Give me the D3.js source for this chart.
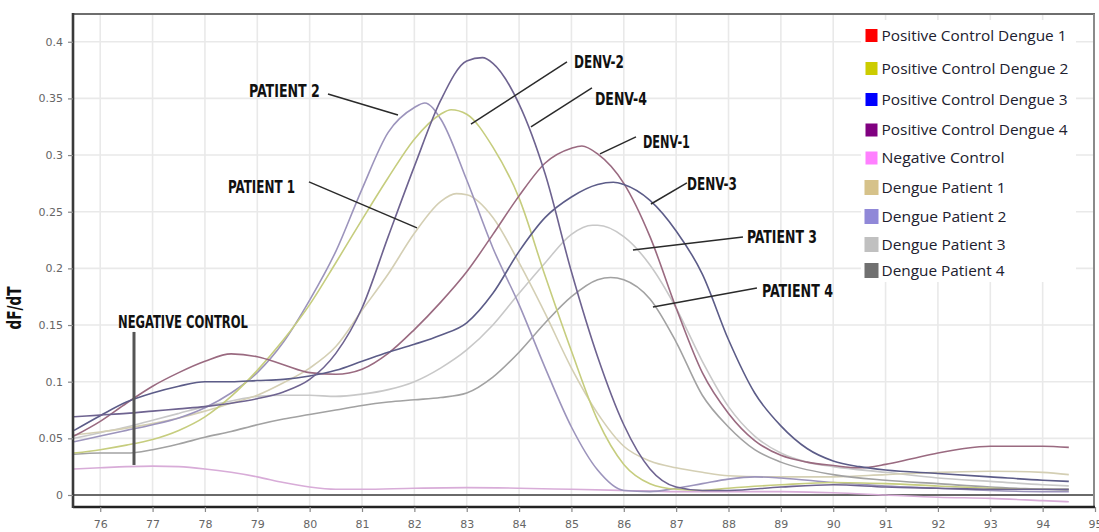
<!DOCTYPE html>
<html><head><meta charset="utf-8">
<script src="https://cdn.jsdelivr.net/npm/d3@7"></script>
<style>
html,body{margin:0;padding:0;background:#fff;}
svg{display:block;}
</style></head>
<body>
<svg id="chart" width="1099" height="532"></svg>
<script>
// ---------- DATA (temperature °C, dF/dT) ----------
const denv1 = [[75.5,0.052],[76,0.065],[76.5,0.081],[77,0.096],[77.5,0.108],[78,0.118],[78.5,0.1245],[79,0.122],[79.5,0.115],[80,0.108],[80.5,0.1065],[81,0.111],[81.5,0.125],[82,0.146],[82.5,0.17],[83,0.197],[83.5,0.23],[84,0.264],[84.5,0.293],[85,0.306],[85.2,0.308],[85.5,0.301],[86,0.275],[86.5,0.228],[87,0.165],[87.5,0.108],[88,0.072],[88.5,0.048],[89,0.035],[89.5,0.029],[90,0.026],[90.5,0.024],[91,0.027],[91.5,0.032],[92,0.037],[92.5,0.041],[93,0.043],[94,0.043],[94.5,0.042]];
const denv2 = [[75.5,0.037],[76,0.04],[76.5,0.044],[77,0.049],[77.5,0.057],[78,0.069],[78.5,0.087],[79,0.11],[79.5,0.137],[80,0.168],[80.5,0.205],[81,0.243],[81.5,0.28],[82,0.314],[82.5,0.336],[82.7,0.34],[83,0.336],[83.5,0.307],[84,0.262],[84.5,0.193],[85,0.127],[85.5,0.066],[86,0.027],[86.5,0.01],[87,0.005],[87.5,0.004],[88,0.006],[89,0.009],[90,0.011],[91,0.01],[92,0.008],[93,0.006],[94,0.005],[94.5,0.005]];
const denv3 = [[75.5,0.057],[76,0.07],[76.5,0.082],[77,0.09],[77.5,0.096],[78,0.1],[78.5,0.1],[79,0.101],[79.5,0.102],[80,0.105],[80.5,0.11],[81,0.118],[81.5,0.126],[82,0.133],[82.5,0.141],[83,0.152],[83.5,0.178],[84,0.215],[84.5,0.245],[85,0.263],[85.5,0.274],[85.8,0.276],[86,0.274],[86.5,0.26],[87,0.233],[87.5,0.195],[88,0.137],[88.5,0.09],[89,0.061],[89.5,0.041],[90,0.03],[90.5,0.025],[91,0.022],[92,0.019],[93,0.016],[94,0.013],[94.5,0.012]];
const denv4 = [[75.5,0.069],[76,0.0705],[76.5,0.072],[77,0.074],[77.5,0.076],[78,0.078],[78.5,0.081],[79,0.085],[79.5,0.091],[80,0.102],[80.5,0.125],[81,0.165],[81.5,0.228],[82,0.29],[82.5,0.348],[83,0.383],[83.3,0.386],[83.5,0.381],[84,0.345],[84.5,0.283],[85,0.197],[85.5,0.122],[86,0.062],[86.5,0.023],[87,0.007],[87.5,0.004],[88,0.004],[89,0.007],[90,0.009],[91,0.007],[92,0.006],[93,0.005],[94,0.005],[94.5,0.005]];
const negative = [[75.5,0.023],[76,0.024],[76.5,0.025],[77,0.0255],[77.5,0.025],[78,0.023],[78.5,0.02],[79,0.016],[79.5,0.011],[80,0.007],[80.5,0.005],[81,0.005],[82,0.006],[83,0.0065],[84,0.006],[85,0.005],[86,0.004],[87,0.003],[88,0.003],[89,0.003],[90,0.002],[91,0.0],[92,-0.002],[93,-0.003],[94,-0.005],[94.5,-0.006]];
const patient1 = [[75.5,0.053],[76,0.0556],[76.5,0.059],[77,0.063],[77.5,0.068],[78,0.074],[78.5,0.081],[79,0.088],[79.5,0.099],[80,0.112],[80.5,0.131],[81,0.163],[81.5,0.195],[82,0.231],[82.5,0.259],[82.8,0.266],[83,0.265],[83.5,0.245],[84,0.205],[84.5,0.16],[85,0.112],[85.5,0.072],[86,0.043],[86.5,0.03],[87,0.024],[87.5,0.02],[88,0.017],[89,0.016],[90,0.016],[91,0.018],[92,0.02],[93,0.021],[94,0.02],[94.5,0.018]];
const patient2 = [[75.5,0.047],[76,0.052],[76.5,0.057],[77,0.062],[77.5,0.068],[78,0.077],[78.5,0.09],[79,0.108],[79.5,0.135],[80,0.172],[80.5,0.215],[81,0.27],[81.5,0.32],[82,0.342],[82.2,0.346],[82.5,0.332],[83,0.278],[83.5,0.218],[84,0.168],[84.5,0.112],[85,0.06],[85.5,0.022],[86,0.004],[86.5,0.003],[87,0.006],[87.5,0.01],[88,0.014],[88.5,0.016],[89,0.015],[90,0.011],[91,0.008],[92,0.006],[93,0.004],[94,0.003],[94.5,0.003]];
const patient3 = [[75.5,0.05],[76,0.055],[76.5,0.06],[77,0.066],[77.5,0.072],[78,0.078],[78.5,0.083],[79,0.087],[79.5,0.088],[80,0.088],[80.5,0.087],[81,0.089],[81.5,0.093],[82,0.1],[82.5,0.112],[83,0.128],[83.5,0.15],[84,0.178],[84.5,0.205],[85,0.23],[85.4,0.238],[85.5,0.238],[86,0.228],[86.5,0.203],[87,0.165],[87.5,0.118],[88,0.078],[88.5,0.052],[89,0.037],[89.5,0.029],[90,0.025],[91,0.02],[92,0.015],[93,0.012],[94,0.009],[94.5,0.008]];
const patient4 = [[75.5,0.036],[76,0.037],[76.5,0.037],[77,0.04],[77.5,0.045],[78,0.051],[78.5,0.056],[79,0.062],[79.5,0.067],[80,0.071],[80.5,0.075],[81,0.079],[81.5,0.082],[82,0.084],[82.5,0.086],[83,0.09],[83.5,0.104],[84,0.126],[84.5,0.152],[85,0.175],[85.5,0.19],[85.75,0.192],[86,0.19],[86.5,0.173],[87,0.135],[87.5,0.088],[88,0.06],[88.5,0.04],[89,0.029],[90,0.018],[91,0.013],[92,0.01],[93,0.007],[94,0.005],[94.5,0.004]];

const legendLabels = ["Positive Control Dengue 1","Positive Control Dengue 2","Positive Control Dengue 3","Positive Control Dengue 4","Negative Control","Dengue Patient 1","Dengue Patient 2","Dengue Patient 3","Dengue Patient 4"];
const legendColors = ["#ff0000","#cccc00","#0000ff","#800080","#ff80ff","#d6c28a","#9088d8","#c0c0c0","#707070"];
const seriesData = [denv1, denv2, denv3, denv4, negative, patient1, patient2, patient3, patient4];
// colours as they appear on the (washed-out) curves
const lineColors = ["#9a6a80","#c6cd7e","#5c5c88","#6e6390","#d8acd8","#d4cfb4","#9c94bc","#c8c8c8","#a2a2a2"];

const xTicks = [76,77,78,79,80,81,82,83,84,85,86,87,88,89,90,91,92,93,94,95];
const yTicks = [0,0.05,0.1,0.15,0.2,0.25,0.3,0.35,0.4];
const yTickLabels = ["0","0.05","0.1","0.15","0.2","0.25","0.3","0.35","0.4"];

// annotations: label anchor (t,v) and leader line from (t1,v1) to (t2,v2), all in data units
const annotations = [
  {text:"PATIENT 2", t:78.84, v:0.3513, w:71, line:[[80.35,0.3539],[81.687,0.3354]]},
  {text:"PATIENT 1", t:78.44, v:0.2665, w:67, line:[[79.987,0.2763],[82.05,0.2357]]},
  {text:"NEGATIVE CONTROL", t:76.339, v:0.1474, w:130, line:[[76.645,0.1439],[76.645,0.0265]], thick:true},
  {text:"DENV-2", t:85.048, v:0.3769, w:50, line:[[84.915,0.3822],[83.081,0.3274]]},
  {text:"DENV-4", t:85.449, v:0.3443, w:52, line:[[85.392,0.3592],[84.227,0.3248]]},
  {text:"DENV-1", t:86.366, v:0.3063, w:47, line:[[86.233,0.316],[85.545,0.301]]},
  {text:"DENV-3", t:87.206, v:0.2692, w:50, line:[[87.206,0.2754],[86.519,0.2568]]},
  {text:"PATIENT 3", t:88.352, v:0.2224, w:70, line:[[88.276,0.2277],[86.175,0.2162]]},
  {text:"PATIENT 4", t:88.639, v:0.1748, w:71, line:[[88.543,0.1827],[86.557,0.1659]]}
];

// ---------- DRAWING ----------
const svg = d3.select("#chart");
const x = d3.scaleLinear().domain([75.48, 95]).range([73, 1095]);
const y = d3.scaleLinear().domain([-0.0106, 0.4245]).range([507, 14]);
const [x0, x1] = x.range(), [y0, y1] = y.range();

function fit(sel, w){
  sel.each(function(){
    const l = this.getComputedTextLength();
    if (Math.abs(l - w) > 0.5) d3.select(this).attr("textLength", w).attr("lengthAdjust", "spacingAndGlyphs");
  });
}

// grid
const grid = svg.append("g");
grid.selectAll("line.v").data(xTicks.filter(t => t < 95)).join("line")
  .attr("x1", d => x(d)).attr("x2", d => x(d)).attr("y1", y1).attr("y2", y0)
  .attr("stroke", "#e9e9e9").attr("stroke-width", 1.6);
grid.selectAll("line.h").data(yTicks).join("line")
  .attr("x1", x0).attr("x2", x1 - 1).attr("y1", d => y(d)).attr("y2", d => y(d))
  .attr("stroke", "#e9e9e9").attr("stroke-width", 1.6);

// legend background (hides grid)
svg.append("rect").attr("x", 861).attr("y", 20).attr("width", 215).attr("height", 262).attr("fill", "#fff");

// zero line
svg.append("line").attr("x1", x0).attr("x2", x1).attr("y1", y(0)).attr("y2", y(0))
  .attr("stroke", "#6a6a6a").attr("stroke-width", 2);

// curves
const line = d3.line().x(d => x(d[0])).y(d => y(d[1])).curve(d3.curveMonotoneX);
const drawOrder = [7, 5, 4, 8, 6, 1, 0, 2, 3];
svg.append("g").selectAll("path").data(drawOrder).join("path")
  .attr("d", i => line(seriesData[i]))
  .attr("fill", "none").attr("stroke", i => lineColors[i]).attr("stroke-width", 1.6)
  .attr("stroke-linejoin", "round");

// frame
svg.append("line").attr("x1", x0).attr("x2", x1).attr("y1", y1).attr("y2", y1).attr("stroke", "#6e6e6e").attr("stroke-width", 2.2);
svg.append("line").attr("x1", x1 - 1).attr("x2", x1 - 1).attr("y1", y1).attr("y2", y0).attr("stroke", "#8a8a8a").attr("stroke-width", 2);
svg.append("line").attr("x1", x0).attr("x2", x1).attr("y1", y0).attr("y2", y0).attr("stroke", "#222").attr("stroke-width", 2.5);
svg.append("line").attr("x1", x0).attr("x2", x0).attr("y1", y1 - 1).attr("y2", y0 + 1).attr("stroke", "#3a3a3a").attr("stroke-width", 2.6);

// axes
const yAxis = svg.append("g").attr("transform", `translate(${x0},0)`)
  .call(d3.axisLeft(y).tickValues(yTicks).tickFormat((d, i) => yTickLabels[i]).tickSize(5).tickPadding(5));
const xAxis = svg.append("g").attr("transform", `translate(0,${y0})`)
  .call(d3.axisBottom(x).tickValues(xTicks).tickFormat(d => String(d)).tickSize(5).tickPadding(8));
[yAxis, xAxis].forEach(a => {
  a.select(".domain").remove();
  a.selectAll(".tick line").attr("stroke", "#888").attr("stroke-width", 1.2);
  a.selectAll(".tick text").attr("fill", "#666").style("font-family", "DejaVu Sans, Verdana, sans-serif").style("font-size", "11px");
});

// axis titles
svg.append("text").attr("transform", "translate(21,308) rotate(-90)")
  .attr("text-anchor", "middle").style("font-family", "'Liberation Sans Narrow','DejaVu Sans Condensed',sans-serif")
  .style("font-weight", "bold").style("font-size", "19px").attr("fill", "#111").text("dF/dT")
  .call(fit, 43);
svg.append("text").attr("x", 578).attr("y", 541).attr("text-anchor", "middle")
  .style("font-family", "DejaVu Sans, sans-serif").style("font-size", "12px").attr("fill", "#555").text("°C");

// annotations
const ann = svg.append("g");
ann.selectAll("line").data(annotations).join("line")
  .attr("x1", d => x(d.line[0][0])).attr("y1", d => y(d.line[0][1]))
  .attr("x2", d => x(d.line[1][0])).attr("y2", d => y(d.line[1][1]))
  .attr("stroke", d => d.thick ? "#555" : "#2a2a2a").attr("stroke-width", d => d.thick ? 3 : 1.5);
ann.selectAll("text").data(annotations).join("text")
  .attr("x", d => x(d.t)).attr("y", d => y(d.v))
  .style("font-family", "'Liberation Sans Narrow','DejaVu Sans Condensed',sans-serif")
  .style("font-weight", "bold").style("font-size", "18px").attr("fill", "#111")
  .text(d => d.text)
  .each(function(d){ d3.select(this).call(fit, d.w); });

// legend
const legendRowY = [35.5, 68.5, 99.5, 130, 158, 187.5, 216.5, 244.5, 270.5];
const legendSwatch = [13, 13, 13, 13, 13, 15, 15, 15, 15];
const legendTextW = [185, 187, 186, 186, 123, 124, 125, 124, 123];
const lg = svg.append("g");
lg.selectAll("rect").data(legendLabels).join("rect")
  .attr("x", (d, i) => 866 - (legendSwatch[i] - 13) / 2 - 0.5)
  .attr("y", (d, i) => legendRowY[i] - legendSwatch[i] / 2)
  .attr("width", (d, i) => legendSwatch[i] - 1).attr("height", (d, i) => legendSwatch[i])
  .attr("fill", (d, i) => legendColors[i]);
lg.selectAll("text").data(legendLabels).join("text")
  .attr("x", 881.5).attr("y", (d, i) => legendRowY[i] + 5)
  .style("font-family", "'Open Sans', 'Noto Sans', sans-serif").style("font-size", "14px")
  .attr("fill", "#20202e").text(d => d)
  .each(function(d, i){ d3.select(this).call(fit, legendTextW[i]); });
</script>
</body></html>
